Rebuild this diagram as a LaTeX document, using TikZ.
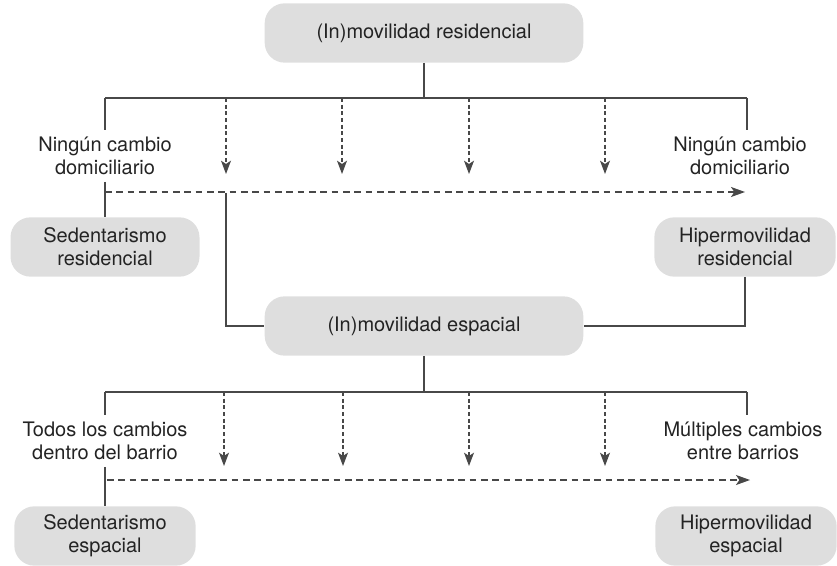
\documentclass[tikz,border=0pt]{standalone}
\usepackage{fontspec}
\setmainfont{TeX Gyre Heros}
\usepackage{xcolor}
\usetikzlibrary{positioning}
\usetikzlibrary{arrows.meta}
\usetikzlibrary{calc}

\begin{document}
\begin{tikzpicture}[x=0.75pt,y=0.75pt,yscale=-1,xscale=1,
  every node/.style={font=\fontsize{15}{17.25}\selectfont, text={rgb,255:red,35;green,35;blue,35}},
  graybox/.style={fill={rgb,255:red,222;green,222;blue,222}, rounded corners=15pt, minimum width=136pt, minimum height=44.5pt, align=center, inner sep=0pt},
  bigbox/.style={graybox, minimum width=239pt},
  branchlabel/.style={align=center, inner sep=5pt},
  connector/.style={draw={rgb,255:red,72;green,72;blue,72}, line width=0.9pt},
  downarrow/.style={connector, dash pattern=on 3pt off 2pt, -{Stealth[length=10pt,width=7.5pt,inset=2.5pt]}},
  rightarrow/.style={connector, dash pattern=on 5pt off 3.5pt, -{Stealth[length=10.5pt,width=7.5pt,inset=2.5pt]}}]
  \useasboundingbox (0,0) rectangle (837,566); %whole page

  % Boxes
  \node [bigbox] (resid) at (424,33) {(In)movilidad residencial};
  \node [graybox, minimum width=141.75pt] (sedres) at (105,247) {Sedentarismo\\residencial};
  \node [graybox] (hipres) at (745,247) {Hipermovilidad\\residencial};
  \node [bigbox] (espac) at (424,326) {(In)movilidad espacial};
  \node [graybox] (sedesp) at (105,536) {Sedentarismo\\espacial};
  \node [graybox] (hipesp) at (746,536) {Hipermovilidad\\espacial};

  % Text Node
  \node [branchlabel] (nres1) at (105,156) {Ningún cambio\\domiciliario};
  \node [branchlabel] (nres2) at (740,156) {Ningún cambio\\domiciliario};
  \node [branchlabel] (todos) at (105,441) {Todos los cambios\\dentro del barrio};
  \node [branchlabel] (multi) at (743,441) {Múltiples cambios\\entre barrios};

  % branch points
  \coordinate (rl) at (105,98);
  \coordinate (rr) at (747,98);
  \coordinate (rd0) at (105,192);
  \coordinate (rd1) at (745,192);
  \coordinate (rs) at (226,193);
  \coordinate (el) at (105,392);
  \coordinate (er) at (747,392);
  \coordinate (ed0) at (107,480);
  \coordinate (ed1) at (750,480);

  %Straight Lines
  \draw [connector] (resid.south) -- (resid.south |- rl);
  \draw [connector] (rl) -- (rr);
  \draw [connector] (rl) -- (nres1.north);
  \draw [connector] (nres1.south) -- (sedres.north);
  \draw [connector] (rr) -- (rr |- nres2.north);
  \draw [connector] (rs) |- (espac.west);
  \draw [connector] (hipres.south) |- (espac.east);
  \draw [connector] (espac.south) -- (espac.south |- el);
  \draw [connector] (el) -- (er);
  \draw [connector] (el) -- (todos.north);
  \draw [connector] (todos.south) -- (sedesp.north);
  \draw [connector] (er) -- (er |- multi.north);

  %Dashed arrows
  \draw [rightarrow] (rd0) -- (rd1);
  \draw [rightarrow] (ed0) -- (ed1);
  \foreach \i/\xx in {1/226,2/342,3/469,4/605} {
    \coordinate (ra\i) at (\xx,98);
    \coordinate (rb\i) at (\xx,174);
    \draw [downarrow] (ra\i) -- (rb\i);
  }
  \foreach \i/\xx in {1/224,2/343,3/469,4/605} {
    \coordinate (ea\i) at (\xx,392);
    \coordinate (eb\i) at (\xx,466);
    \draw [downarrow] (ea\i) -- (eb\i);
  }
\end{tikzpicture}
\end{document}
